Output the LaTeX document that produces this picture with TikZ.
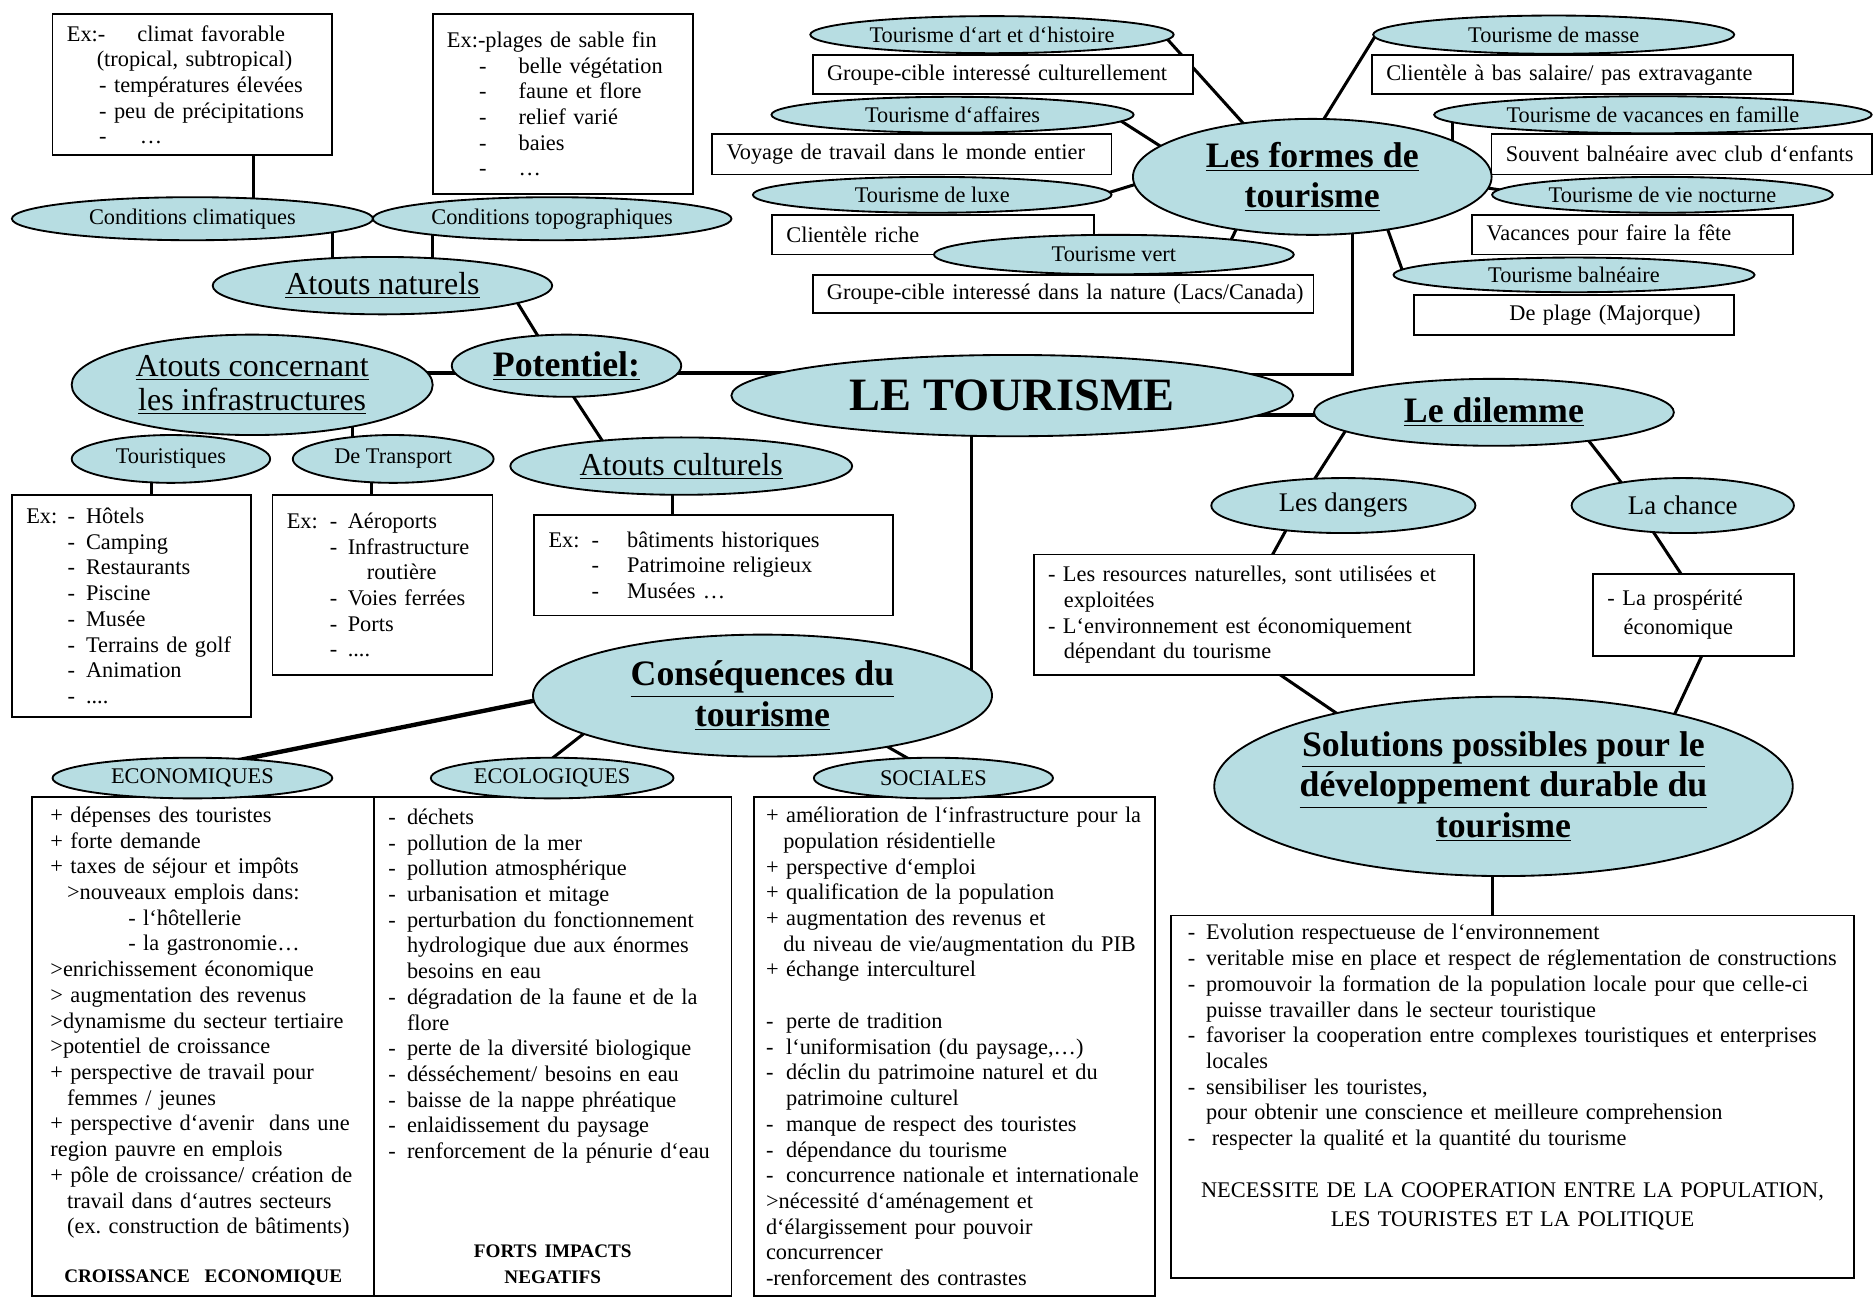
\documentclass[tikz,border=0pt]{standalone}
\usepackage{fontspec}
\setmainfont{Liberation Serif}
\usetikzlibrary{shapes.geometric}
\definecolor{ellblue}{RGB}{183,221,226}
\pgfdeclarelayer{bg}
\pgfsetlayers{bg,main}
\newcommand{\ftxt}{\fontsize{13.3}{15.3}\selectfont}
\newcommand{\fmid}{\fontsize{16}{18}\selectfont}
\newcommand{\fbig}{\fontsize{19}{20}\selectfont}
\newcommand{\fhead}{\fontsize{21.3}{24}\selectfont\bfseries}
\newcommand{\fcap}{\fontsize{11.4}{15.3}\selectfont\bfseries}
\tikzstyle{ell} = [ellipse, draw=black, line width=1.1pt, fill=ellblue, inner sep=-6pt, align=center, font=\ftxt]
\tikzstyle{txtbox} = [rectangle, draw=black, line width=1.1pt, fill=white, inner xsep=0.3cm, inner ysep=0pt, align=left, font=\ftxt]
\tikzstyle{conn} = [line width=1.8pt]
\tikzstyle{bigconn} = [line width=2.6pt]

\begin{document}
\begin{tikzpicture}[x=0.025cm, y=-0.025cm]
\useasboundingbox (0,0) rectangle (1568,1085);

\node (climbox) [txtbox, text width=5.25cm, minimum height=2.95cm] at (161,71) {\makebox[1.475cm][l]{Ex:-}climat favorable\\ \hspace*{0.625cm}(tropical, subtropical)\\ \hspace*{0.675cm}- températures élevées\\ \hspace*{0.675cm}- peu de précipitations\\ \hspace*{0.675cm}\makebox[0.85cm][l]{-}…};
\node (plagbox) [txtbox, text width=4.85cm, minimum height=3.75cm] at (471,87) {Ex:-plages de sable fin\\ \hspace*{0.675cm}\makebox[0.825cm][l]{-}belle végétation\\ \hspace*{0.675cm}\makebox[0.825cm][l]{-}faune et flore\\ \hspace*{0.675cm}\makebox[0.825cm][l]{-}relief varié\\ \hspace*{0.675cm}\makebox[0.825cm][l]{-}baies\\ \hspace*{0.675cm}\makebox[0.825cm][l]{-}…};
\node (artbox) [txtbox, text width=7.35cm, minimum height=0.825cm] at (839,62.5) {Groupe-cible interessé culturellement};
\node (affbox) [txtbox, text width=7.75cm, minimum height=0.85cm] at (763,129) {Voyage de travail dans le monde entier};
\node (luxbox) [txtbox, text width=6.125cm, minimum height=0.825cm] at (780.5,196.5) {Clientèle riche};
\node (vertbox) [txtbox, inner xsep=0.2cm, text width=10.075cm, minimum height=0.8cm] at (889.5,246) {\hspace*{0.1cm}Groupe-cible interessé dans la nature (Lacs/Canada)};
\node (massebox) [txtbox, text width=8.2cm, minimum height=0.825cm] at (1324,62.5) {Clientèle à bas salaire/ pas extravagante};
\node (famillebox) [txtbox, text width=7.35cm, minimum height=0.85cm] at (1407,129) {Souvent balnéaire avec club d`enfants};
\node (nocbox) [txtbox, text width=6.1cm, minimum height=0.825cm] at (1366,196.5) {Vacances pour faire la fête};
\node (balnbox) [txtbox, text width=6.1cm, minimum height=0.825cm] at (1317,263.5) {\hspace*{1.7cm}De plage (Majorque)};
\node (toubox) [txtbox, text width=4.4cm, minimum height=4.65cm] at (110,507) {\makebox[0.865cm][l]{Ex:}\makebox[0.385cm][l]{-}Hôtels\\ \hspace*{0.865cm}\makebox[0.385cm][l]{-}Camping\\ \hspace*{0.865cm}\makebox[0.385cm][l]{-}Restaurants\\ \hspace*{0.865cm}\makebox[0.385cm][l]{-}Piscine\\ \hspace*{0.865cm}\makebox[0.385cm][l]{-}Musée\\ \hspace*{0.865cm}\makebox[0.385cm][l]{-}Terrains de golf\\ \hspace*{0.865cm}\makebox[0.385cm][l]{-}Animation\\ \hspace*{0.865cm}\makebox[0.385cm][l]{-}....};
\node (trpbox) [txtbox, text width=4.0cm, minimum height=3.775cm] at (320,489.5) {\makebox[0.9cm][l]{Ex:}\makebox[0.375cm][l]{-}Aéroports\\ \hspace*{0.9cm}\makebox[0.375cm][l]{-}Infrastructure\\ \hspace*{1.675cm}routière\\ \hspace*{0.9cm}\makebox[0.375cm][l]{-}Voies ferrées\\ \hspace*{0.9cm}\makebox[0.375cm][l]{-}Ports\\ \hspace*{0.9cm}\makebox[0.375cm][l]{-}....};
\node (culbox) [txtbox, text width=6.9cm, minimum height=2.1cm] at (597,473) {\makebox[0.9cm][l]{Ex:}\makebox[0.745cm][l]{-}bâtiments historiques\\ \hspace*{0.9cm}\makebox[0.745cm][l]{-}Patrimoine religieux\\ \hspace*{0.9cm}\makebox[0.745cm][l]{-}Musées …};
\node (dangbox) [txtbox, text width=8.6cm, minimum height=2.525cm] at (1049,514.5) {- Les resources naturelles, sont utilisées et\\ \hspace*{0.33cm}exploitées\\ - L`environnement est économiquement\\ \hspace*{0.33cm}dépendant du tourisme};
\node (chancebox) [txtbox, text width=3.6cm, minimum height=1.725cm] at (1417,514.5) {- La prospérité\\[2pt] \hspace*{0.34cm}économique};
\node (ecobox) [txtbox, inner xsep=0.38cm, text width=6.39cm, minimum height=10.425cm] at (170,875.5) {+ dépenses des touristes\\
+ forte demande\\
+ taxes de séjour et impôts\\
\hspace*{0.35cm}>nouveaux emplois dans:\\
\hspace*{1.63cm}- l`hôtellerie\\
\hspace*{1.63cm}- la gastronomie…\\
>enrichissement économique\\
> augmentation des revenus\\
>dynamisme du secteur tertiaire\\
>potentiel de croissance\\
+ perspective de travail pour\\
\hspace*{0.35cm}femmes / jeunes\\
+ perspective d`avenir\ \ dans une\\
region pauvre en emplois\\
+ pôle de croissance/ création de\\
\hspace*{0.35cm}travail dans d`autres secteurs\\
\hspace*{0.35cm}(ex.\ construction de bâtiments)\par
\vspace{0.49cm}
{\centering\fcap CROISSANCE\ \ ECONOMIQUE\par}};
\node (ecolbox) [txtbox, text width=6.875cm, minimum height=10.425cm] at (462.5,875.5) {\makebox[0.39cm][l]{-}déchets\\
\makebox[0.39cm][l]{-}pollution de la mer\\
\makebox[0.39cm][l]{-}pollution atmosphérique\\
\makebox[0.39cm][l]{-}urbanisation et mitage\\
\makebox[0.39cm][l]{-}perturbation du fonctionnement\\
\hspace*{0.39cm}hydrologique due aux énormes\\
\hspace*{0.39cm}besoins en eau\\
\makebox[0.39cm][l]{-}dégradation de la faune et de la\\
\hspace*{0.39cm}flore\\
\makebox[0.39cm][l]{-}perte de la diversité biologique\\
\makebox[0.39cm][l]{-}désséchement/ besoins en eau\\
\makebox[0.39cm][l]{-}baisse de la nappe phréatique\\
\makebox[0.39cm][l]{-}enlaidissement du paysage\\
\makebox[0.39cm][l]{-}renforcement de la pénurie d`eau\par
\vspace{1.54cm}
{\centering\fcap FORTS IMPACTS\\ NEGATIFS\par}};
\node (socbox) [txtbox, inner xsep=0.25cm, text width=7.875cm, minimum height=10.425cm] at (798.5,875.5) {+ amélioration de l`infrastructure pour la\\
\hspace*{0.36cm}population résidentielle\\
+ perspective d`emploi\\
+ qualification de la population\\
+ augmentation des revenus et\\
\hspace*{0.36cm}du niveau de vie/augmentation du PIB\\
+ échange interculturel\\[0.54cm]
\makebox[0.42cm][l]{-}perte de tradition\\
\makebox[0.42cm][l]{-}l`uniformisation (du paysage,…)\\
\makebox[0.42cm][l]{-}déclin du patrimoine naturel et du\\
\hspace*{0.42cm}patrimoine culturel\\
\makebox[0.42cm][l]{-}manque de respect des touristes\\
\makebox[0.42cm][l]{-}dépendance du tourisme\\
\makebox[0.42cm][l]{-}concurrence nationale et internationale\\
>nécessité d`aménagement et\\
d`élargissement pour pouvoir\\
concurrencer\\
-renforcement des contrastes};
\node (solbox) [txtbox, inner xsep=0.35cm, text width=13.575cm, minimum height=7.575cm] at (1265.5,917.5) {\makebox[0.38cm][l]{-}Evolution respectueuse de l`environnement\\
\makebox[0.38cm][l]{-}veritable mise en place et respect de réglementation de constructions\\
\makebox[0.38cm][l]{-}promouvoir la formation de la population locale pour que celle-ci\\
\hspace*{0.38cm}puisse travailler dans le secteur touristique\\
\makebox[0.38cm][l]{-}favoriser la cooperation entre complexes touristiques et enterprises\\
\hspace*{0.38cm}locales\\
\makebox[0.38cm][l]{-}sensibiliser les touristes,\\
\hspace*{0.38cm}pour obtenir une conscience et meilleure comprehension\\
\makebox[0.5cm][l]{-}respecter la qualité et la quantité du tourisme\par
\vspace{15.3pt}
{\centering NECESSITE DE LA COOPERATION ENTRE LA POPULATION,\\[2pt] LES TOURISTES ET LA POLITIQUE\\[10pt] \mbox{}\par}};

\node (climell) [ell, minimum width=7.55cm, minimum height=0.9cm] at (161,183) {Conditions climatiques};
\node (topoell) [ell, minimum width=7.5cm, minimum height=0.9cm] at (462,183) {Conditions topographiques};
\node (natell) [ell, font=\fbig, minimum width=7.1cm, minimum height=1.2cm] at (320,239) {\underline{Atouts naturels}};
\node (potell) [ell, font=\fhead, minimum width=4.8cm, minimum height=1.3cm] at (474,306) {\underline{Potentiel:}};
\node (infell) [ell, font=\fbig, minimum width=7.55cm, minimum height=2.1cm] at (211,322) {\underline{Atouts concernant}\\ \underline{les infrastructures}};
\node (touell) [ell, minimum width=4.15cm, minimum height=1.0cm] at (143,384) {Touristiques};
\node (trpell) [ell, minimum width=4.2cm, minimum height=1.0cm] at (329,384) {De Transport};
\node (culell) [ell, font=\fbig, minimum width=7.15cm, minimum height=1.2cm] at (570,390) {\underline{Atouts culturels}};
\node (tourisme) [ell, font=\fontsize{27.6}{30}\selectfont\bfseries, minimum width=11.75cm, minimum height=1.7cm] at (847,331) {LE TOURISME};
\node (formes) [ell, font=\fhead, minimum width=7.5cm, minimum height=2.425cm] at (1098,148) {\underline{Les formes de}\\ \underline{tourisme}};
\node (art) [ell, minimum width=7.6cm, minimum height=0.775cm] at (830,29) {Tourisme d`art et d`histoire};
\node (aff) [ell, minimum width=7.575cm, minimum height=0.75cm] at (797,96) {Tourisme d`affaires};
\node (luxe) [ell, minimum width=7.5cm, minimum height=0.75cm] at (780,163) {Tourisme de luxe};
\node (vert) [ell, minimum width=7.525cm, minimum height=0.825cm] at (932,213) {Tourisme vert};
\node (masse) [ell, minimum width=7.55cm, minimum height=0.8cm] at (1300,29) {Tourisme de masse};
\node (famille) [ell, minimum width=9.15cm, minimum height=0.775cm] at (1383,96) {Tourisme de vacances en famille};
\node (nocturne) [ell, minimum width=7.125cm, minimum height=0.75cm] at (1391,163) {Tourisme de vie nocturne};
\node (baln) [ell, minimum width=7.55cm, minimum height=0.725cm] at (1317,230) {Tourisme balnéaire};
\node (dilemme) [ell, font=\fhead, minimum width=7.525cm, minimum height=1.4cm] at (1250,345) {\underline{Le dilemme}};
\node (dangers) [ell, font=\fmid, minimum width=5.525cm, minimum height=1.15cm] at (1124,423) {Les dangers};
\node (chance) [ell, font=\fmid, minimum width=4.65cm, minimum height=1.15cm] at (1408,423) {La chance};
\node (solutions) [ell, font=\fhead, minimum width=12.1cm, minimum height=3.75cm] at (1258,658) {\underline{Solutions possibles pour le}\\ \underline{développement durable du}\\ \underline{tourisme}};
\node (consequences) [ell, font=\fhead, minimum width=9.6cm, minimum height=2.55cm] at (638,582) {\underline{Conséquences du}\\ \underline{tourisme}};
\node (econ) [ell, minimum width=5.85cm, minimum height=0.85cm] at (161,651) {ECONOMIQUES};
\node (ecol) [ell, minimum width=5.075cm, minimum height=0.85cm] at (462,651) {ECOLOGIQUES};
\node (soc) [ell, minimum width=5.0cm, minimum height=0.85cm] at (781,651) {SOCIALES};

\begin{pgfonlayer}{bg}
\fill [white] (0,0) rectangle (1568,1085);
\draw [conn] ([shift={(51,49)}]climbox.center) -- ([shift={(51,0)}]climell.center);
\draw [conn] ([shift={(117,0)}]climell.center) -- ([shift={(-42,0)}]natell.center);
\draw [conn] ([shift={(-100,0)}]topoell.center) -- ([shift={(42,0)}]natell.center);
\draw [conn] ([shift={(106,3)}]natell.center) -- ([shift={(-16,-12)}]potell.center);
\draw [bigconn] ([shift={(140,-10)}]infell.center) -- ([shift={(-80,6)}]potell.center);
\draw [bigconn] ([shift={(80,6)}]potell.center) -- ([shift={(-180,-19)}]tourisme.center);
\draw [conn] ([shift={(0,17)}]potell.center) -- ([shift={(-60,-12)}]culell.center);
\draw [conn] ([shift={(-7,0)}]culell.center) -- ([shift={(-34,-30)}]culbox.center);
\draw [conn] ([shift={(84,30)}]infell.center) -- ([shift={(-34,0)}]trpell.center);
\draw [conn] ([shift={(-16,0)}]touell.center) -- ([shift={(17,-60)}]toubox.center);
\draw [conn] ([shift={(-18,0)}]trpell.center) -- ([shift={(-9,-50)}]trpbox.center);
\draw [conn] ([shift={(-34,0)}]tourisme.center) -- ([shift={(175,-10)}]consequences.center);
\draw [bigconn] ([shift={(-150,-4)}]consequences.center) -- ([shift={(29,-13)}]econ.center);
\draw [conn] ([shift={(-128,15)}]consequences.center) -- ([shift={(-7,-11)}]ecol.center);
\draw [conn] ([shift={(91,35)}]consequences.center) -- ([shift={(-10,-10)}]soc.center);
\draw [conn] ([shift={(180,-18)}]tourisme.center) -| ([shift={(34,0)}]formes.center);
\draw [bigconn] ([shift={(200,16)}]tourisme.center) -- ([shift={(-100,2)}]dilemme.center);
\draw [conn] ([shift={(-48,-34)}]formes.center) -- ([shift={(146,3)}]art.center);
\draw [conn] ([shift={(-108,-13.5)}]formes.center) -- ([shift={(139,4)}]aff.center);
\draw [conn] ([shift={(-118,-3)}]formes.center) -- ([shift={(145,-1)}]luxe.center);
\draw [conn] ([shift={(-58,32)}]formes.center) -- ([shift={(97,-10)}]vert.center);
\draw [conn] ([shift={(2,-36)}]formes.center) -- ([shift={(-148,-1)}]masse.center);
\draw [conn] ([shift={(117,-18)}]formes.center) -- ([shift={(-168,4)}]famille.center);
\draw [conn] ([shift={(132,7)}]formes.center) -- ([shift={(-129,-3)}]nocturne.center);
\draw [conn] ([shift={(57,27)}]formes.center) -- ([shift={(-143,-2)}]baln.center);
\draw [conn] ([shift={(-122,12)}]dilemme.center) -- ([shift={(-30,-13)}]dangers.center);
\draw [conn] ([shift={(74,17)}]dilemme.center) -- ([shift={(-45,-11)}]chance.center);
\draw [conn] ([shift={(-46,17)}]dangers.center) -- ([shift={(10,-40)}]dangbox.center);
\draw [conn] ([shift={(-28,17)}]chance.center) -- ([shift={(-4,-24.5)}]chancebox.center);
\draw [conn] ([shift={(8,40.5)}]dangbox.center) -- ([shift={(-113,-43)}]solutions.center);
\draw [conn] ([shift={(11,25.5)}]chancebox.center) -- ([shift={(135,-43)}]solutions.center);
\draw [conn] ([shift={(-9,0)}]solutions.center) -- ([shift={(-16.5,-130)}]solbox.center);
\end{pgfonlayer}
\end{tikzpicture}
\end{document}
